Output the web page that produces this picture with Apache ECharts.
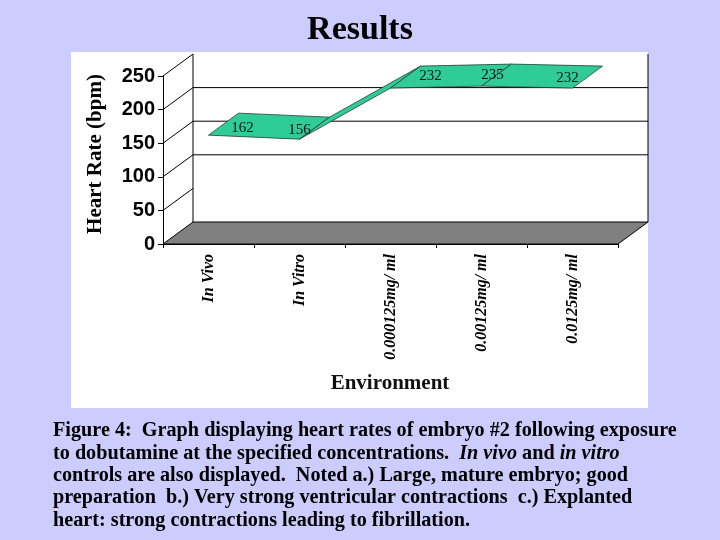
<!DOCTYPE html>
<html>
<head>
<meta charset="utf-8">
<script src="https://cdn.jsdelivr.net/npm/echarts@6/dist/echarts.min.js"></script>
<style>
  html, body { margin: 0; padding: 0; background: #ccccff; }
  #chart { width: 720px; height: 540px; }
</style>
</head>
<body>
<div id="chart"></div>
<script>
// data
const categories = ['In Vivo', 'In Vitro', '0.000125mg/ ml', '0.00125mg/ ml', '0.0125mg/ ml']
const heartRates = [162, 156, 232, 235, 232]
const yTicks = [0, 50, 100, 150, 200, 250]
const wallGridValues = [100, 150, 200]

// small per-label nudges so the numbers sit where Excel put them
const labelNudge = [[34, -7], [0, -9], [40, -12], [11, -11], [-5, -10]]

// 3D depth of the fake excel chart
const DX = 30
const DY = -22

const serif = '"Liberation Serif", "Times New Roman", serif'
const sans = '"Liberation Sans", Arial, sans-serif'

const chart = echarts.init(document.getElementById('chart'))

function line(x1, y1, x2, y2) {
  return {
    type: 'line',
    shape: { x1, y1, x2, y2 },
    style: { stroke: '#000', lineWidth: 1 },
  }
}

// walls + floor, drawn from the grid rect and the value axis
function renderFrame(params, api) {
  const cs = params.coordSys
  const left = cs.x
  const right = cs.x + cs.width
  const y0 = api.coord([0, 0])[1]
  const yTop = api.coord([0, 250])[1]
  const children = []
  children.push({
    type: 'polygon',
    shape: { points: [[left, y0], [right, y0], [right + DX, y0 + DY], [left + DX, y0 + DY]] },
    style: { fill: '#808080', stroke: '#000', lineWidth: 1 },
  })
  children.push(line(left + DX, yTop + DY, left + DX, y0 + DY))
  children.push(line(right + DX, yTop + DY, right + DX, y0 + DY))
  wallGridValues.forEach((v) => {
    const y = api.coord([0, v])[1] + DY
    children.push(line(left + DX, y, right + DX, y))
  })
  yTicks.forEach((v) => {
    if (v === 0) return
    const y = api.coord([0, v])[1]
    children.push(line(left, y, left + DX, y + DY))
  })
  return { type: 'group', children }
}

function renderRibbon(params, api) {
  const i = params.dataIndex
  if (i >= heartRates.length - 1) return null
  const a = api.coord([i, heartRates[i]])
  const b = api.coord([i + 1, heartRates[i + 1]])
  return {
    type: 'polygon',
    shape: { points: [a, b, [b[0] + DX, b[1] + DY], [a[0] + DX, a[1] + DY]] },
    style: { fill: '#2fcc98', stroke: '#1f3f33', lineWidth: 0.8 },
  }
}

function renderLabel(params, api) {
  const i = params.dataIndex
  const p = api.coord([i, heartRates[i]])
  const n = labelNudge[i]
  return {
    type: 'text',
    x: p[0] + n[0],
    y: p[1] + n[1],
    style: {
      text: String(heartRates[i]),
      font: '15px ' + serif,
      fill: '#111',
      align: 'center',
      verticalAlign: 'middle',
    },
  }
}

const seriesData = heartRates.map((v, i) => [i, v])

chart.setOption({
  backgroundColor: '#ccccff',
  animation: false,
  grid: { left: 163, right: 102, top: 76, bottom: 296 },
  xAxis: {
    type: 'category',
    data: categories,
    boundaryGap: true,
    axisLine: { show: true, lineStyle: { color: '#000', width: 1 } },
    axisTick: { show: true, length: 4, lineStyle: { color: '#000' } },
    axisLabel: {
      rotate: 90,
      margin: 10,
      color: '#000',
      fontFamily: serif,
      fontStyle: 'italic',
      fontWeight: 'bold',
      fontSize: 16,
    },
    splitLine: { show: false },
  },
  yAxis: {
    type: 'value',
    min: 0,
    max: 250,
    interval: 50,
    axisLine: { show: true, lineStyle: { color: '#000', width: 1 } },
    axisTick: { show: true, length: 5, lineStyle: { color: '#000' } },
    axisLabel: {
      margin: 8,
      color: '#000',
      fontFamily: sans,
      fontWeight: 'bold',
      fontSize: 20,
    },
    splitLine: { show: false },
  },
  graphic: [
    {
      type: 'rect',
      z: -10,
      shape: { x: 71, y: 52, width: 577, height: 356 },
      style: { fill: '#ffffff' },
    },
    {
      type: 'text',
      x: 360,
      y: 30,
      style: {
        text: 'Results',
        font: 'bold 34px ' + serif,
        fill: '#000',
        align: 'center',
        verticalAlign: 'middle',
      },
    },
    {
      type: 'text',
      x: 96,
      y: 154,
      rotation: Math.PI / 2,
      style: {
        text: 'Heart Rate (bpm)',
        font: 'bold 21px ' + serif,
        fill: '#000',
        align: 'center',
        verticalAlign: 'middle',
      },
    },
    {
      type: 'text',
      x: 390,
      y: 384,
      style: {
        text: 'Environment',
        font: 'bold 21px ' + serif,
        fill: '#111',
        align: 'center',
        verticalAlign: 'middle',
      },
    },
    {
      type: 'text',
      x: 53,
      y: 420,
      scaleX: 1.01,
      style: {
        text:
          'Figure 4:  Graph displaying heart rates of embryo #2 following exposure\n' +
          'to dobutamine at the specified concentrations.  {i|In vivo} and {i|in vitro}\n' +
          'controls are also displayed.  Noted a.) Large, mature embryo; good\n' +
          'preparation  b.) Very strong ventricular contractions  c.) Explanted\n' +
          'heart: strong contractions leading to fibrillation.',
        font: 'bold 20px ' + serif,
        fill: '#000',
        lineHeight: 22.3,
        align: 'left',
        verticalAlign: 'top',
        rich: {
          i: { fontFamily: serif, fontWeight: 'bold', fontStyle: 'italic', fontSize: 20, lineHeight: 22.3 },
        },
      },
    },
  ],
  series: [
    {
      type: 'custom',
      name: 'frame',
      data: [[0, 0]],
      renderItem: renderFrame,
      z: 1,
      silent: true,
    },
    {
      type: 'custom',
      name: 'Heart Rate',
      data: seriesData,
      renderItem: renderRibbon,
      z: 3,
    },
    {
      type: 'custom',
      name: 'labels',
      data: seriesData,
      renderItem: renderLabel,
      z: 4,
    },
  ],
})
</script>
</body>
</html>
